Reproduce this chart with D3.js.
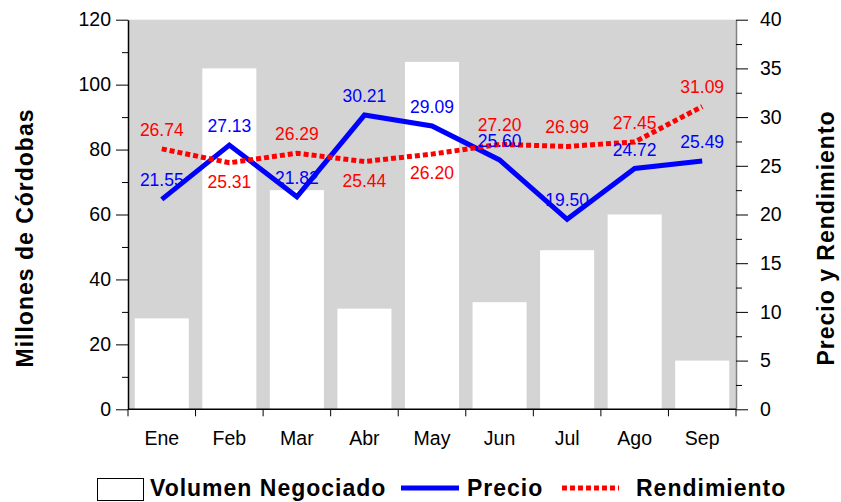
<!DOCTYPE html>
<html>
<head>
<meta charset="utf-8">
<script src="https://d3js.org/d3.v7.min.js"></script>
<style>
  body { margin: 0; background: #fff; }
  text { font-family: "Liberation Sans", Arial, sans-serif; }
</style>
</head>
<body>
<script>
    // data
    const meses = ["Ene", "Feb", "Mar", "Abr", "May", "Jun", "Jul", "Ago", "Sep"];
    const volumen = [28, 105, 67.5, 31, 107, 33, 49, 60, 15];
    const precio = [21.55, 27.13, 21.82, 30.21, 29.09, 25.60, 19.50, 24.72, 25.49];
    const rendimiento = [26.74, 25.31, 26.29, 25.44, 26.20, 27.20, 26.99, 27.45, 31.09];
    const leftTicks = [0, 20, 40, 60, 80, 100, 120];
    const rightTicks = [0, 5, 10, 15, 20, 25, 30, 35, 40];
    // months whose Rendimiento label sits under the line
    const rendBelow = ["Feb", "Abr", "May"];

    const width = 841, height = 502;
    const plot = { left: 128, right: 736, top: 19.7, bottom: 409.3 };

    const svg = d3.select("body").append("svg")
        .attr("width", width)
        .attr("height", height);

    const x = d3.scaleBand()
        .domain(meses)
        .range([plot.left, plot.right])
        .paddingInner(0.2)
        .paddingOuter(0.1);

    const yL = d3.scaleLinear().domain([0, 120]).range([plot.bottom, plot.top]);
    const yR = d3.scaleLinear().domain([0, 40]).range([plot.bottom, plot.top]);

    // gray plot area
    svg.append("rect")
        .attr("x", plot.left)
        .attr("y", plot.top)
        .attr("width", plot.right - plot.left)
        .attr("height", plot.bottom - plot.top)
        .attr("fill", "#d4d4d4");

    // bars
    svg.selectAll(".bar")
        .data(meses)
        .enter().append("rect")
        .attr("class", "bar")
        .attr("x", d => x(d))
        .attr("y", (d, i) => yL(volumen[i]))
        .attr("width", x.bandwidth())
        .attr("height", (d, i) => yL(0) - yL(volumen[i]))
        .attr("fill", "#ffffff");

    // left axis
    const axL = svg.append("g")
        .attr("transform", `translate(${plot.left},0)`)
        .call(d3.axisLeft(yL).tickValues(leftTicks).tickSize(12).tickPadding(5).tickSizeOuter(0));
    svg.append("g")
        .attr("transform", `translate(${plot.left},0)`)
        .call(d3.axisLeft(yL).tickValues(d3.range(10, 120, 20)).tickSize(6).tickFormat("").tickSizeOuter(0))
        .select(".domain").remove();

    // right axis
    const axR = svg.append("g")
        .attr("transform", `translate(${plot.right},0)`)
        .call(d3.axisRight(yR).tickValues(rightTicks).tickSize(12).tickPadding(12).tickSizeOuter(0));
    svg.append("g")
        .attr("transform", `translate(${plot.right},0)`)
        .call(d3.axisRight(yR).tickValues(d3.range(2.5, 40, 5)).tickSize(6).tickFormat("").tickSizeOuter(0))
        .select(".domain").remove();
    axR.select(".domain").attr("stroke", "#808080").attr("stroke-width", 1.5);

    // bottom axis, ticks at the category boundaries
    const bounds = meses.map(d => x(d) - x.step() * x.paddingInner() / 2).concat([plot.right]);
    svg.append("line")
        .attr("x1", plot.left).attr("x2", plot.right)
        .attr("y1", plot.bottom).attr("y2", plot.bottom)
        .attr("stroke", "#000").attr("stroke-width", 1.5);
    svg.selectAll(".xtick")
        .data(bounds)
        .enter().append("line")
        .attr("x1", d => d).attr("x2", d => d)
        .attr("y1", plot.bottom).attr("y2", plot.bottom + 7)
        .attr("stroke", "#000");
    svg.selectAll(".xlabel")
        .data(meses)
        .enter().append("text")
        .attr("x", d => x(d) + x.bandwidth() / 2)
        .attr("y", 445)
        .attr("text-anchor", "middle")
        .attr("font-size", 19.5)
        .text(d => d);

    [axL, axR].forEach(g => {
        g.selectAll("text").attr("font-size", 19.5).attr("font-family", "Liberation Sans, Arial, sans-serif").attr("fill", "#000");
        g.selectAll(".tick line").attr("stroke", "#000");
    });
    axL.select(".domain").attr("stroke", "#000").attr("stroke-width", 1.5);

    // axis titles
    svg.append("text")
        .attr("transform", "translate(33,238) rotate(-90)")
        .attr("text-anchor", "middle")
        .attr("font-size", 23)
        .attr("font-weight", "bold")
        .attr("letter-spacing", 1)
        .text("Millones de Córdobas");
    svg.append("text")
        .attr("transform", "translate(834,238) rotate(-90)")
        .attr("text-anchor", "middle")
        .attr("font-size", 23)
        .attr("font-weight", "bold")
        .attr("letter-spacing", 1)
        .text("Precio y Rendimiento");

    const cx = d => x(d) + x.bandwidth() / 2;

    // lines
    const lineGen = d3.line().x((d, i) => cx(meses[i])).y(d => yR(d));
    svg.append("path")
        .datum(precio)
        .attr("d", lineGen)
        .attr("fill", "none")
        .attr("stroke", "#0000ff")
        .attr("stroke-width", 5);

    svg.append("path")
        .datum(rendimiento)
        .attr("d", lineGen)
        .attr("fill", "none")
        .attr("stroke", "#ff0000")
        .attr("stroke-width", 5)
        .attr("stroke-dasharray", "5,3");

    // labels
    svg.selectAll(".lbl-precio")
        .data(precio)
        .enter().append("text")
        .attr("x", (d, i) => cx(meses[i]))
        .attr("y", d => yR(d) - 13)
        .attr("text-anchor", "middle")
        .attr("font-size", 17.5)
        .attr("fill", "#0000ff")
        .text(d => d.toFixed(2));

    svg.selectAll(".lbl-rend")
        .data(rendimiento)
        .enter().append("text")
        .attr("x", (d, i) => cx(meses[i]))
        .attr("y", (d, i) => rendBelow.includes(meses[i]) ? yR(d) + 25 : yR(d) - 13)
        .attr("text-anchor", "middle")
        .attr("font-size", 17.5)
        .attr("fill", "#ff0000")
        .text(d => d.toFixed(2));

    // legend
    const legend = svg.append("g");
    legend.append("rect")
        .attr("x", 97.5).attr("y", 478.5)
        .attr("width", 46).attr("height", 22)
        .attr("fill", "#fff").attr("stroke", "#000");
    legend.append("text")
        .attr("x", 150).attr("y", 496)
        .attr("font-size", 23).attr("font-weight", "bold").attr("letter-spacing", 1)
        .text("Volumen Negociado");
    legend.append("line")
        .attr("x1", 401).attr("x2", 459).attr("y1", 488).attr("y2", 488)
        .attr("stroke", "#0000ff").attr("stroke-width", 5);
    legend.append("text")
        .attr("x", 467).attr("y", 496)
        .attr("font-size", 23).attr("font-weight", "bold").attr("letter-spacing", 1)
        .text("Precio");
    legend.append("line")
        .attr("x1", 562).attr("x2", 619).attr("y1", 488).attr("y2", 488)
        .attr("stroke", "#ff0000").attr("stroke-width", 5)
        .attr("stroke-dasharray", "5,3");
    legend.append("text")
        .attr("x", 636).attr("y", 496)
        .attr("font-size", 23).attr("font-weight", "bold").attr("letter-spacing", 1)
        .text("Rendimiento");
</script>
</body>
</html>
